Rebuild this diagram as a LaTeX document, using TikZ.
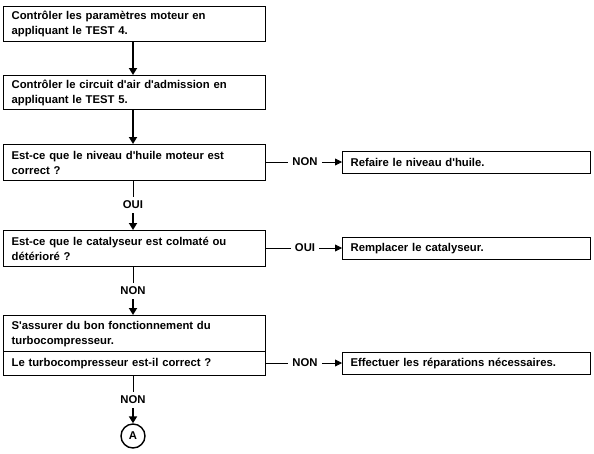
\documentclass[tikz,border=0pt]{standalone}
\usepackage{fontspec}
\setmainfont{Liberation Sans}
\usetikzlibrary{arrows.meta}
\newcommand{\q}{\textquotesingle}
\begin{document}
\begin{tikzpicture}[x=1pt,y=-1pt,
  font=\fontsize{11.3}{15}\selectfont\bfseries,
  mainbox/.style={draw,line width=1.2pt,anchor=north west,text width=246pt,inner xsep=8pt,inner ysep=2pt,align=left,minimum height=#1},
  sidebox/.style={draw,line width=1.2pt,anchor=north west,text width=232pt,inner xsep=8pt,inner ysep=2pt,align=left,minimum height=22pt},
  lbl/.style={inner sep=4pt},
  thin/.style={line width=0.8pt},
  thickarr/.style={line width=1.8pt,-{Triangle[length=7pt,width=8pt]}},
  thinarr/.style={line width=0.8pt,-{Triangle[length=7pt,width=7pt]}}]
\useasboundingbox (0,0) rectangle (594,453);
\node[mainbox=35pt] (b1) at (3,6) {Contrôler les paramètres moteur en\\appliquant le TEST 4.};
\node[mainbox=34pt] (b2) at (3,75) {Contrôler le circuit d\q air d\q admission en\\appliquant le TEST 5.};
\node[mainbox=36pt] (b3) at (3,144) {Est-ce que le niveau d\q huile moteur est\\correct ?};
\node[mainbox=36pt] (b4) at (3,230) {Est-ce que le catalyseur est colmaté ou\\détérioré ?};
\node[mainbox=36pt] (b5) at (3,315) {S\q assurer du bon fonctionnement du\\turbocompresseur.};
\node[mainbox=24pt] (b6) at (3,351) {Le turbocompresseur est-il correct ?};
\node[sidebox] (r1) at (342,151) {Refaire le niveau d\q huile.};
\node[sidebox] (r2) at (342,237) {Remplacer le catalyseur.};
\node[sidebox] (r3) at (342,352) {Effectuer les réparations nécessaires.};
\node[draw,circle,line width=1.4pt,minimum size=24pt,inner sep=0pt] (A) at (133,436) {A};
% labels
\node[lbl] (n1) at (305,162) {NON};
\node[lbl] (o2) at (305,248) {OUI};
\node[lbl] (n3) at (305,363) {NON};
\node[lbl] (o1) at (133,205) {OUI};
\node[lbl] (n2) at (133,291) {NON};
\node[lbl] (n4) at (133,400) {NON};
% connectors
\draw[thickarr] (b1.south -| 133,0) -- (b2.north -| 133,0);
\draw[thickarr] (b2.south -| 133,0) -- (b3.north -| 133,0);
\draw[thin] (b3.south -| o1) -- (o1.north);
\draw[thickarr] (o1.south) -- (b4.north -| o1);
\draw[thin] (b4.south -| n2) -- (n2.north);
\draw[thickarr] (n2.south) -- (b5.north -| n2);
\draw[thin] (b6.south -| n4) -- (n4.north);
\draw[thickarr] (n4.south) -- (A.north);
\draw[thin] (b3.east |- n1) -- (n1.west);
\draw[thinarr] (n1.east) -- (r1.west |- n1);
\draw[thin] (b4.east |- o2) -- (o2.west);
\draw[thinarr] (o2.east) -- (r2.west |- o2);
\draw[thin] (b6.east |- n3) -- (n3.west);
\draw[thinarr] (n3.east) -- (r3.west |- n3);
\end{tikzpicture}
\end{document}
